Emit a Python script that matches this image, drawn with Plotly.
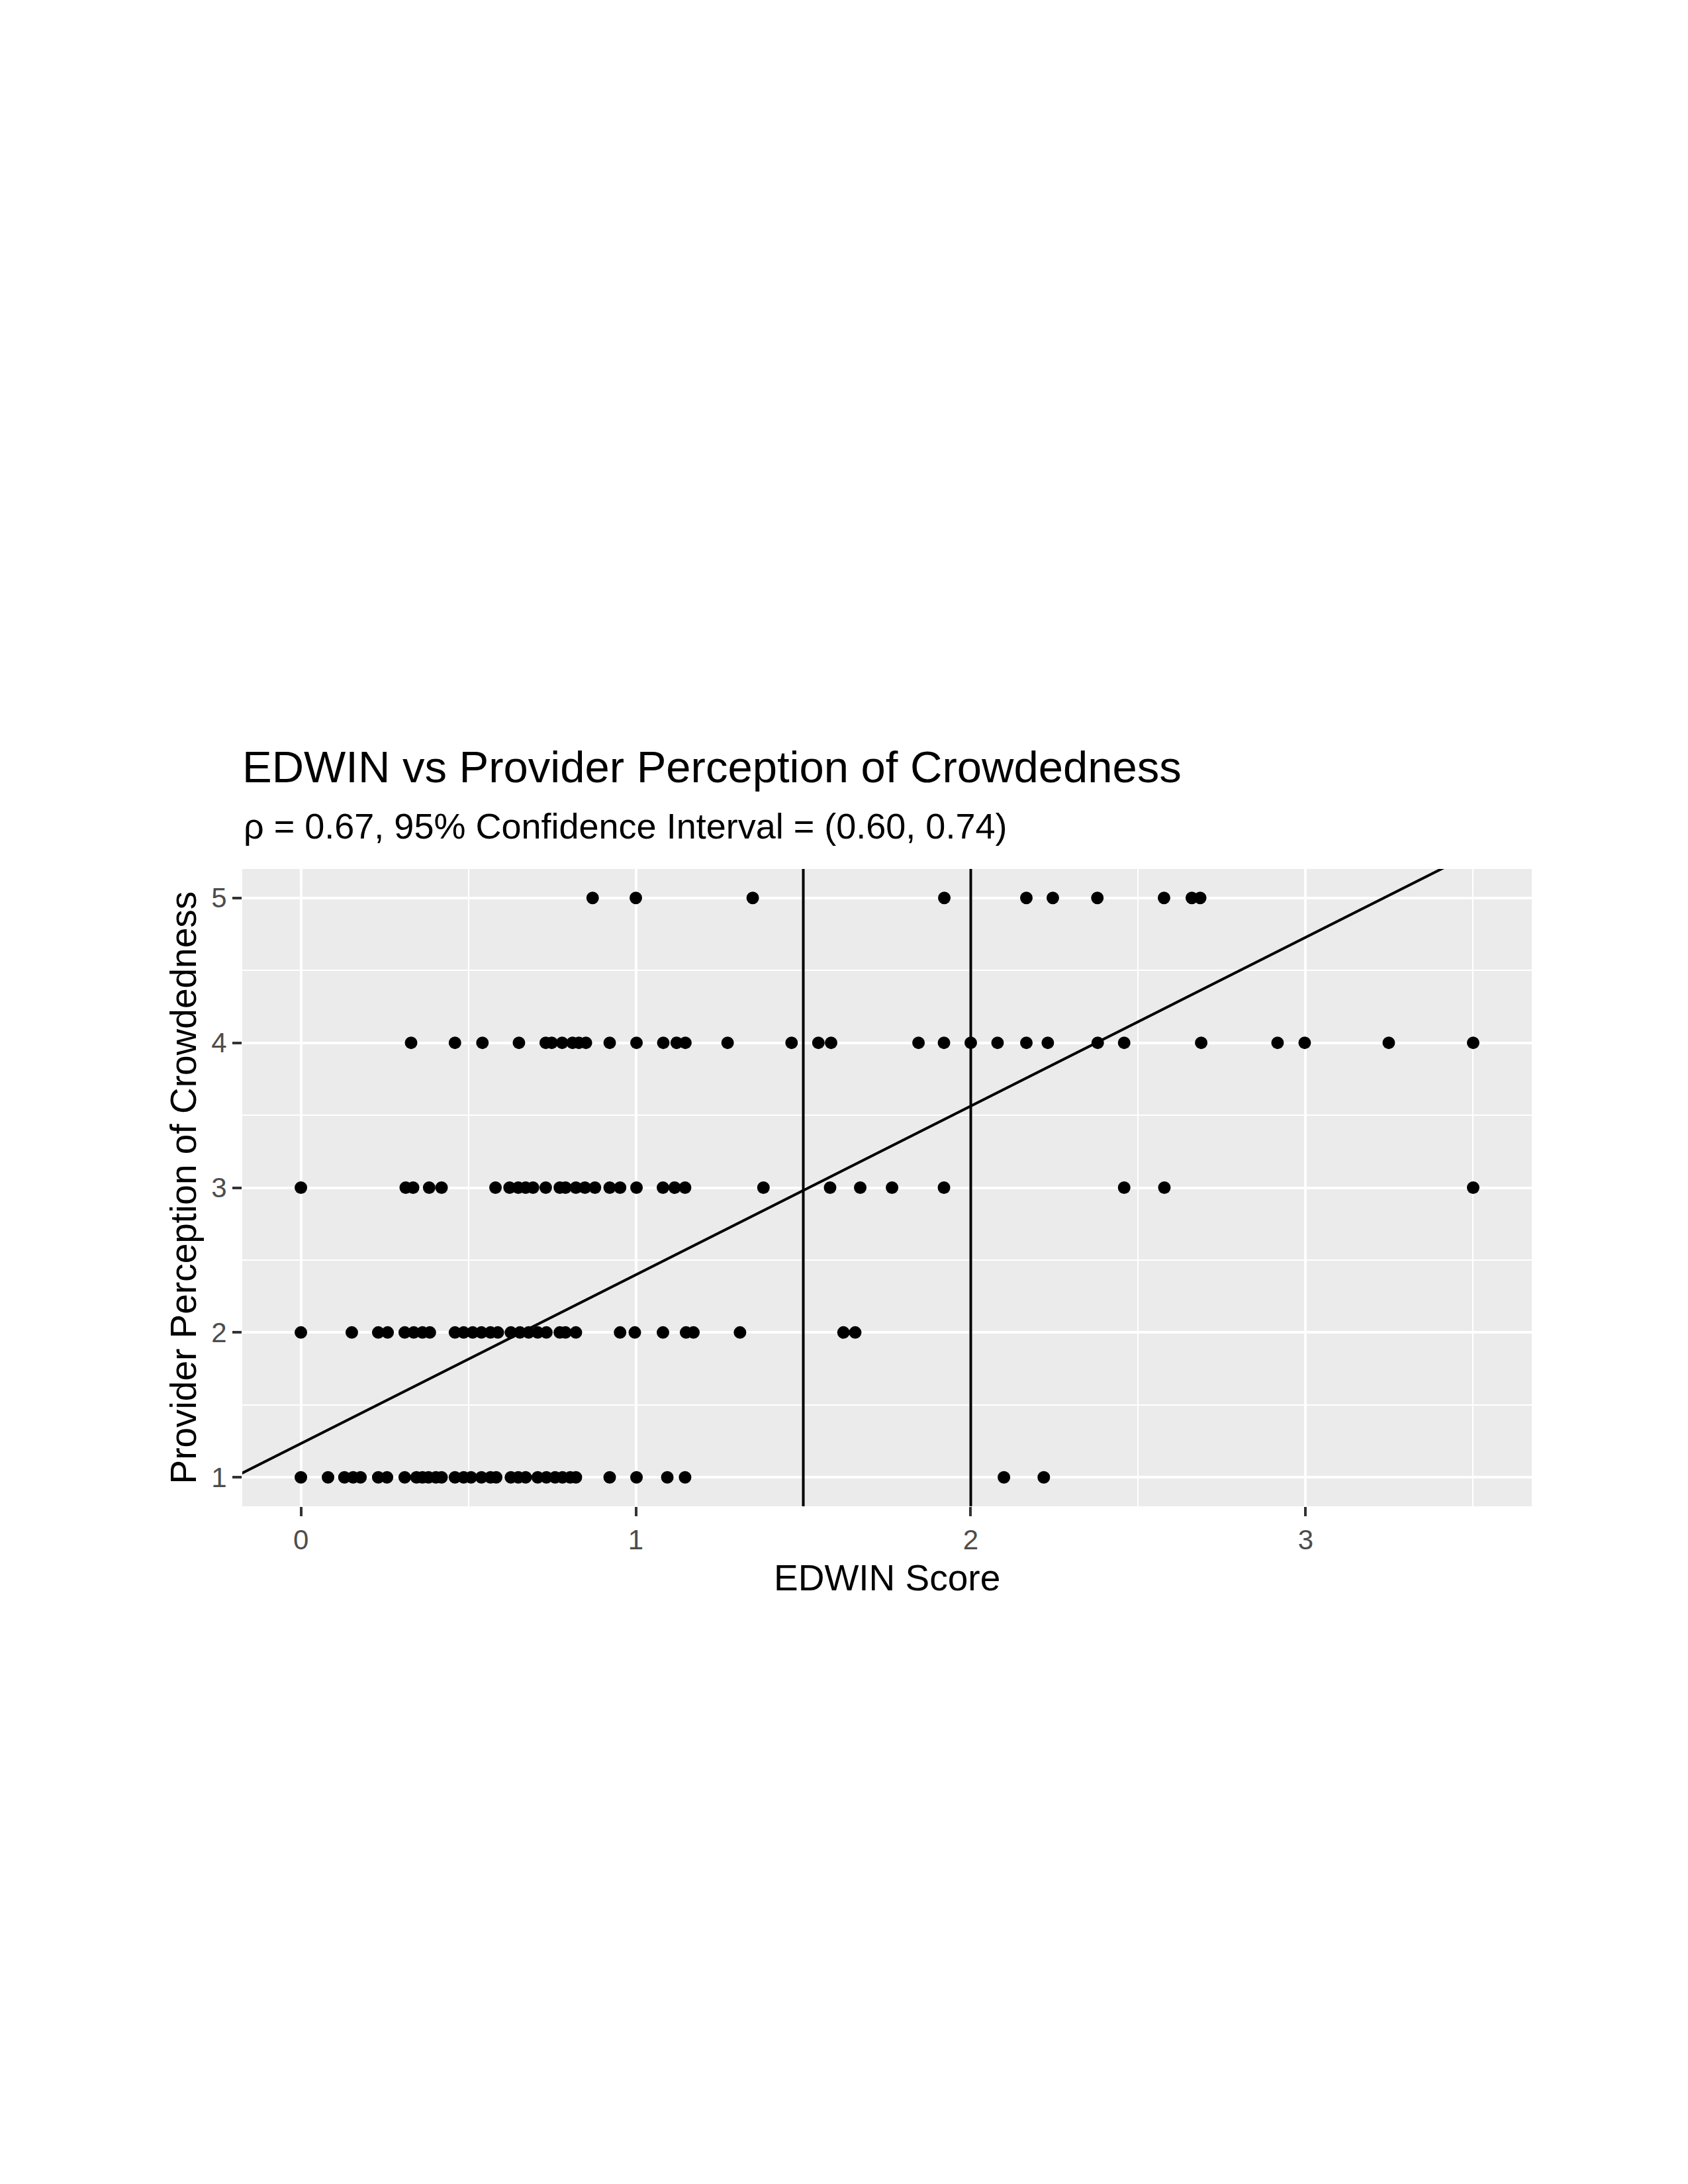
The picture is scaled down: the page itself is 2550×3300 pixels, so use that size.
import plotly.graph_objects as go

# EDWIN scores grouped by provider perception rating
edwin_5 = [0.871, 1.0, 1.349, 1.921, 2.166, 2.245, 2.378, 2.577, 2.66, 2.685]
edwin_4 = [0.329, 0.460, 0.542, 0.651, 0.731, 0.749, 0.780, 0.811, 0.830, 0.851, 0.922, 1.002,
           1.082, 1.122, 1.148, 1.274, 1.465, 1.545, 1.583, 1.844, 1.920, 2.0, 2.080, 2.166,
           2.230, 2.379, 2.458, 2.688, 2.916, 2.997, 3.248, 3.5]
edwin_3 = [0.0, 0.313, 0.335, 0.383, 0.420, 0.581, 0.623, 0.649, 0.671, 0.693, 0.731, 0.773,
           0.790, 0.821, 0.848, 0.878, 0.922, 0.953, 1.002, 1.081, 1.116, 1.147, 1.381, 1.580,
           1.670, 1.765, 1.920, 2.458, 2.578, 3.5]
edwin_2 = [0.0, 0.152, 0.231, 0.259, 0.310, 0.337, 0.363, 0.385, 0.460, 0.486, 0.513, 0.539,
           0.566, 0.588, 0.627, 0.654, 0.680, 0.707, 0.733, 0.773, 0.790, 0.821, 0.953, 0.997,
           1.081, 1.150, 1.172, 1.311, 1.620, 1.655]
edwin_1 = [0.0, 0.081, 0.130, 0.156, 0.178, 0.231, 0.257, 0.310, 0.345, 0.363, 0.381, 0.403,
           0.420, 0.460, 0.486, 0.508, 0.539, 0.566, 0.583, 0.627, 0.649, 0.671, 0.707, 0.733,
           0.759, 0.781, 0.804, 0.821, 0.922, 1.002, 1.094, 1.147, 2.099, 2.218]
ratings = [5, 4, 3, 2, 1]
edwin_by_rating = [edwin_5, edwin_4, edwin_3, edwin_2, edwin_1]

fit_intercept = 1.233
fit_slope = 1.165
cutoffs = [1.5, 2.0]

x_ticks = [0, 1, 2, 3]
y_ticks = [1, 2, 3, 4, 5]

title = "EDWIN vs Provider Perception of Crowdedness"
subtitle = "\u03c1 = 0.67, 95% Confidence Interval = (0.60, 0.74)"
x_title = "EDWIN Score"
y_title = "Provider Perception of Crowdedness"

# flatten
xs, ys = [], []
for r, vals in zip(ratings, edwin_by_rating):
    xs += vals
    ys += [r] * len(vals)

xmin, xmax = min(xs), max(xs)
xpad = 0.05 * (xmax - xmin)
x_range = [xmin - xpad, xmax + xpad]
ymin, ymax = min(ys), max(ys)
ypad = 0.05 * (ymax - ymin)
y_range = [ymin - ypad, ymax + ypad]

FONT = "Liberation Sans, Arial, sans-serif"

fig = go.Figure()
fig.add_trace(go.Scatter(
    x=xs, y=ys, mode="markers",
    marker=dict(color="black", size=19, line=dict(width=0)),
    showlegend=False, hoverinfo="x+y",
))
line_x = [x_range[0] - 0.1, x_range[1] + 0.1]
fig.add_trace(go.Scatter(
    x=line_x, y=[fit_intercept + fit_slope * v for v in line_x],
    mode="lines", line=dict(color="black", width=4),
    showlegend=False, hoverinfo="skip",
))
for c in cutoffs:
    fig.add_vline(x=c, line=dict(color="black", width=4))

# page body has an 8px default margin; compensate
OFF = 8
W, H = 2550 - OFF, 3300 - OFF
PW, PH = 1948, 963
L, T = 366 - OFF, 1313 - OFF
R, B = W - L - PW, H - T - PH
fig.update_layout(
    width=W, height=H,
    margin=dict(l=L, r=R, t=T, b=B, pad=0),
    paper_bgcolor="white", plot_bgcolor="#EBEBEB",
    font=dict(family=FONT, color="black"),
    title=dict(text=title, x=L / W, xanchor="left", xref="container",
               y=1 - (1159 - OFF) / H, yanchor="middle", yref="container",
               font=dict(size=67, color="black", family=FONT)),
    annotations=[
        dict(text=subtitle, xref="paper", yref="paper", x=0, xanchor="left",
             y=1 + (1313 - 1248) / PH, yanchor="middle", showarrow=False,
             font=dict(size=54, color="black", family=FONT)),
        dict(text=x_title, xref="paper", yref="paper", x=0.5, xanchor="center",
             y=-(2384 - 2276) / PH, yanchor="middle", showarrow=False,
             font=dict(size=55, color="black", family=FONT)),
        dict(text=y_title, xref="paper", yref="paper", x=-(366 - 276) / PW,
             xanchor="center", y=0.5, yanchor="middle", textangle=-90, showarrow=False,
             font=dict(size=55, color="black", family=FONT)),
    ],
)
fig.update_xaxes(
    range=x_range, tickvals=x_ticks, ticktext=[str(v) for v in x_ticks],
    ticks="outside", ticklen=14, tickwidth=4, tickcolor="#333333",
    tickfont=dict(size=42, color="#4D4D4D", family=FONT),
    showgrid=True, gridcolor="white", gridwidth=4, zeroline=False, showline=False,
    minor=dict(tickvals=[v + 0.5 for v in x_ticks], showgrid=True, gridcolor="white",
               gridwidth=2, ticks=""),
)
fig.update_yaxes(
    range=y_range, tickvals=y_ticks, ticktext=[str(v) for v in y_ticks],
    ticks="outside", ticklen=14, tickwidth=4, tickcolor="#333333",
    tickfont=dict(size=42, color="#4D4D4D", family=FONT),
    showgrid=True, gridcolor="white", gridwidth=4, zeroline=False, showline=False,
    minor=dict(tickvals=[v + 0.5 for v in y_ticks[:-1]], showgrid=True, gridcolor="white",
               gridwidth=2, ticks=""),
)
fig.write_html("out.html")
